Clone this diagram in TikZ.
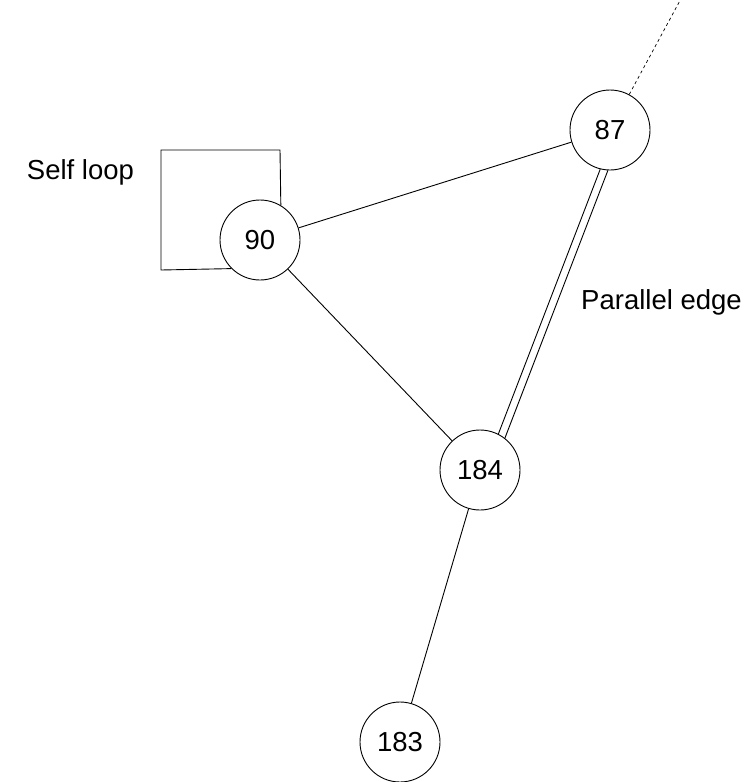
\documentclass[tikz,border=0pt]{standalone}
\usepackage{fontspec}
\setmainfont{Liberation Sans}
\begin{document}
\begin{tikzpicture}[x=1pt,y=-1pt,
  vertex/.style={circle,draw,line width=0.9pt,minimum size=80pt,inner sep=0pt,font=\fontsize{27.5}{31}\selectfont},
  edge/.style={line width=0.9pt},
  lbl/.style={font=\fontsize{27.5}{31}\selectfont,inner sep=0pt}]
\useasboundingbox (0,0) rectangle (751,782);
\node[vertex] (n90) at (260,240) {90};
\node[vertex] (n87) at (610,130) {87};
\node[vertex] (n184) at (480,470) {184};
\node[vertex] (n183) at (400,742) {183};
\node[lbl] (selfl) at (80.5,172) {Self loop};
\node[lbl] (parl) at (661.5,302) {Parallel edge};
\coordinate (lpA) at (280,150);
\coordinate (lpB) at (161,150);
\coordinate (lpC) at (161,270);
\coordinate (far) at (683,-5);
\begin{scope}
\clip (0,0) rectangle (751,782);
\draw[edge] (n90) -- (n87);
\draw[edge] (n90) -- (n184);
\draw[edge] (n184) -- (n183);
\draw[edge] (n87.256) -- (n184.63);
\draw[edge] (n87.267) -- (n184.52);
\draw[edge] (n90.59) -- (lpA) -- (lpB) -- (lpC) -- (n90.225);
\draw[line width=0.7pt,dash pattern=on 3pt off 3pt] (n87) -- (far);
\end{scope}
\end{tikzpicture}
\end{document}
